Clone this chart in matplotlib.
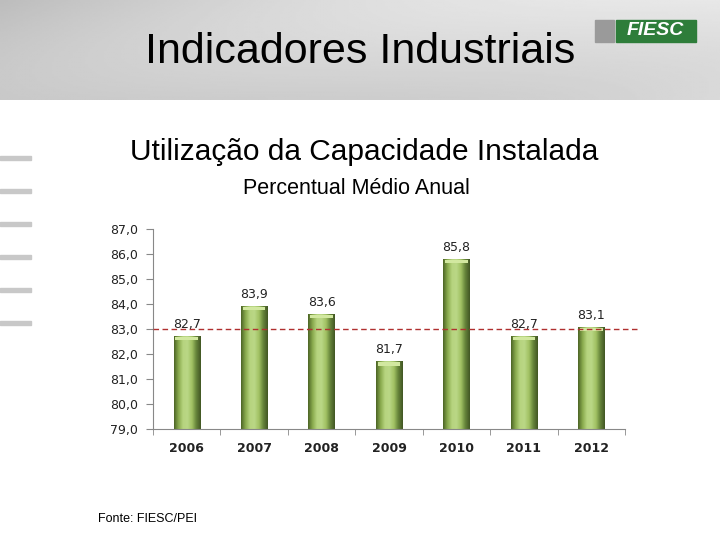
import numpy as np
import matplotlib
matplotlib.use('Agg')
import matplotlib.pyplot as plt
from matplotlib.colors import LinearSegmentedColormap
from matplotlib.patches import Rectangle

anos = ['2006', '2007', '2008', '2009', '2010', '2011', '2012']
uci = [82.7, 83.9, 83.6, 81.7, 85.8, 82.7, 83.1]
media = 83.0
yticks = [79.0, 80.0, 81.0, 82.0, 83.0, 84.0, 85.0, 86.0, 87.0]

fig = plt.figure(figsize=(7.2, 5.4), dpi=100)

# faixa do cabecalho
hdr = fig.add_axes([0, 1 - 100 / 540, 1, 100 / 540])
xx = np.linspace(0, 1, 300)
yy = np.linspace(0, 1, 60)
X, Y = np.meshgrid(xx, yy)
band = 0.74 + 0.16 * X + 0.05 * np.sin(3 * X + 2 * Y)
band = np.clip(band, 0, 0.95)
hdr.imshow(band, cmap='gray', vmin=0, vmax=1, aspect='auto', extent=[0, 1, 0, 1])
hdr.set_xlim(0, 1)
hdr.set_ylim(0, 1)
hdr.axis('off')

fig.text(0.5, 1 - 52 / 540, 'Indicadores Industriais', ha='center', va='center',
         fontsize=31, family='Liberation Sans', color='black')
# logo
fig.patches.append(Rectangle((595 / 720, 1 - 42 / 540), 19 / 720, 22 / 540,
                             transform=fig.transFigure, color='#9a9a9a'))
fig.patches.append(Rectangle((616 / 720, 1 - 42 / 540), 80 / 720, 22 / 540,
                             transform=fig.transFigure, color='#2e7d3a'))
fig.text(655 / 720, 1 - 31 / 540, 'FIESC', ha='center', va='center', fontsize=14,
         fontweight='bold', style='italic', color='white', family='Liberation Sans')

# tracos laterais
for yp in [158, 191, 224, 257, 290, 323]:
    fig.patches.append(Rectangle((0, 1 - (yp + 2) / 540), 31 / 720, 4 / 540,
                                 transform=fig.transFigure, color='#c8c8c8'))

fig.text(364 / 720, 1 - 152 / 540, 'Utilização da Capacidade Instalada', ha='center',
         va='center', fontsize=21.5, family='Liberation Sans')
fig.text(356 / 720, 1 - 188 / 540, 'Percentual Médio Anual', ha='center',
         va='center', fontsize=15.5, family='Liberation Sans')
fig.text(98 / 720, 1 - 519 / 540, 'Fonte: FIESC/PEI', ha='left',
         va='center', fontsize=9, family='Liberation Sans')

# grafico
ax = fig.add_axes([153 / 720, 1 - 429 / 540, 472 / 720, 200 / 540])
x = np.arange(len(anos))
bw = 0.39
cmap = LinearSegmentedColormap.from_list('barra', ['#4d6626', '#8aab4e', '#b6d47f',
                                                   '#bad786', '#a2c264', '#66843a', '#425724'])
grad = np.linspace(0, 1, 64).reshape(1, -1)
bars = ax.bar(x, [v - 79.0 for v in uci], bw, bottom=79.0, color='none', edgecolor='none', zorder=2)
for b, v in zip(bars, uci):
    im = ax.imshow(grad, cmap=cmap, aspect='auto', zorder=2,
                   extent=[b.get_x(), b.get_x() + bw, 79.0, v])
    im.set_clip_path(b)
    ax.bar(b.get_x() + bw / 2, 0.12, bw * 0.86, bottom=v - 0.16, color='#d2e8a0',
           edgecolor='none', zorder=3)
    ax.text(b.get_x() + bw / 2, v + 0.2, f'{v:.1f}'.replace('.', ','), ha='center',
            va='bottom', fontsize=9, color='#222222', zorder=4)

ax.axhline(media, xmin=0, xmax=1.025, color='#b03030', linestyle=(0, (4, 2.5)),
           linewidth=1, clip_on=False, zorder=3)

ax.set_xlim(-0.5, len(anos) - 0.5)
ax.set_ylim(79.0, 87.0)
ax.set_yticks(yticks)
ax.set_yticklabels([f'{t:.1f}'.replace('.', ',') for t in yticks], fontsize=9, color='#222222')
ax.set_xticks(x)
ax.set_xticklabels(anos, fontsize=9, fontweight='bold', color='#222222')
ax.set_xticks(np.arange(-0.5, len(anos), 1), minor=True)
ax.tick_params(axis='x', which='major', length=0, pad=9)
ax.tick_params(axis='x', which='minor', length=4, color='#888888')
ax.tick_params(axis='y', length=5, color='#888888', pad=6)
for s in ['top', 'right']:
    ax.spines[s].set_visible(False)
for s in ['left', 'bottom']:
    ax.spines[s].set_color('#888888')

fig.savefig('out.png', dpi=100)
